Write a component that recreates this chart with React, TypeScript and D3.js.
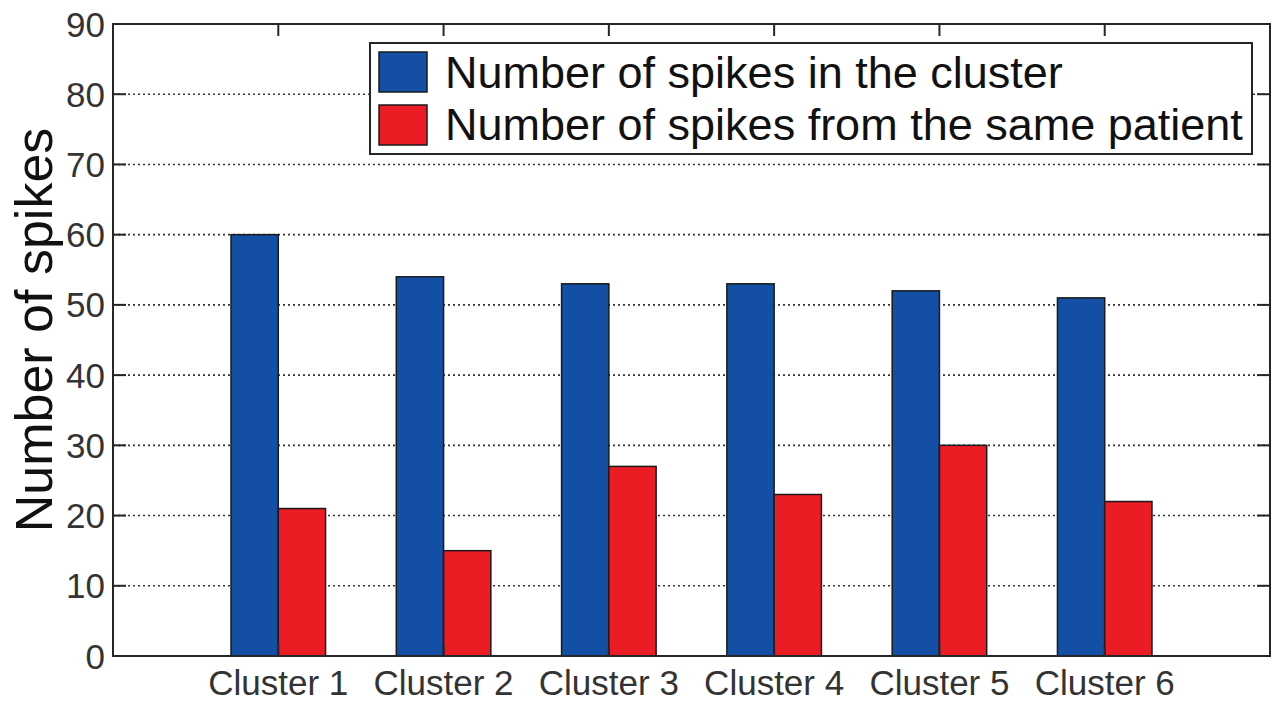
import React from "react";
import * as d3 from "d3";

const categories = ["Cluster 1", "Cluster 2", "Cluster 3", "Cluster 4", "Cluster 5", "Cluster 6"];
const spikesInCluster = [60, 54, 53, 53, 52, 51];
const spikesSamePatient = [21, 15, 27, 23, 30, 22];
const yTicks = [0, 10, 20, 30, 40, 50, 60, 70, 80, 90];
const seriesNames = ["Number of spikes in the cluster", "Number of spikes from the same patient"];
const seriesColors = ["#1350A5", "#EC1C24"];
const yLabel = "Number of spikes";

const W = 1278, H = 702;
const L = 113, R = 1270, T = 24, B = 656;
const FONT = "'Liberation Sans', Arial, Helvetica, sans-serif";
const INK = "#262626";

export default function App() {
  const x = d3.scaleLinear().domain([0, 7]).range([L, R]);
  const y = d3.scaleLinear().domain([0, 90]).range([B, T]);
  const bw = 0.286;
  const series = [spikesInCluster, spikesSamePatient];

  return (
    <svg width={W} height={H} style={{ position: "absolute", left: 0, top: 0, background: "#fff" }}>
      <rect x={0} y={0} width={W} height={H} fill="#fff" />
      {/* grid */}
      {yTicks.slice(1, -1).map((t) => (
        <line key={"g" + t} x1={L} x2={R} y1={y(t)} y2={y(t)} stroke="#333" strokeWidth={1.6} strokeDasharray="2,3" />
      ))}
      {/* bars */}
      {categories.map((c, i) =>
        series.map((s, k) => (
          <rect
            key={c + k}
            x={x(i + 1 + (k - 1) * bw)}
            y={y(s[i])}
            width={x(bw) - x(0)}
            height={y(0) - y(s[i])}
            fill={seriesColors[k]}
            stroke="#1a1a1a"
            strokeWidth={1.5}
          />
        ))
      )}
      {/* axes box */}
      <rect x={L} y={T} width={R - L} height={B - T} fill="none" stroke={INK} strokeWidth={2} />
      {/* y ticks */}
      {yTicks.map((t) => (
        <g key={"y" + t}>
          <line x1={L} x2={L + 13} y1={y(t)} y2={y(t)} stroke={INK} strokeWidth={2} />
          <line x1={R - 13} x2={R} y1={y(t)} y2={y(t)} stroke={INK} strokeWidth={2} />
          <text x={L - 8} y={y(t)} dy="0.36em" textAnchor="end" fontFamily={FONT} fontSize={35} fill="#333">
            {t}
          </text>
        </g>
      ))}
      {/* x ticks */}
      {categories.map((c, i) => (
        <g key={"x" + c}>
          <line x1={x(i + 1)} x2={x(i + 1)} y1={T} y2={T + 12} stroke={INK} strokeWidth={2} />
          <line x1={x(i + 1)} x2={x(i + 1)} y1={B} y2={B - 12} stroke={INK} strokeWidth={2} />
          <text x={x(i + 1)} y={695} textAnchor="middle" fontFamily={FONT} fontSize={35} fill="#333">
            {c}
          </text>
        </g>
      ))}
      {/* y label */}
      <text
        transform={`translate(52, ${(T + B) / 2 - 10}) rotate(-90)`}
        textAnchor="middle"
        fontFamily={FONT}
        fontSize={52}
        fill="#111"
      >
        {yLabel}
      </text>
      {/* legend */}
      <g>
        <rect x={370} y={43} width={882} height={111} fill="#fff" stroke={INK} strokeWidth={2} />
        {seriesNames.map((n, k) => (
          <g key={n}>
            <rect x={379} y={52 + k * 53} width={48} height={40} fill={seriesColors[k]} stroke="#1a1a1a" strokeWidth={1.5} />
            <text x={445} y={88 + k * 52} fontFamily={FONT} fontSize={45} fill="#111">
              {n}
            </text>
          </g>
        ))}
      </g>
    </svg>
  );
}
